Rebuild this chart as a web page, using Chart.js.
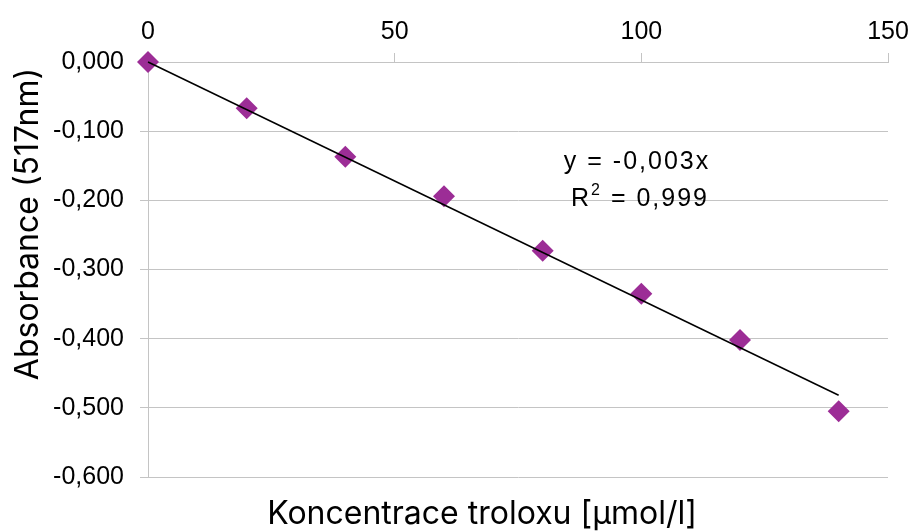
<!DOCTYPE html>
<html>
<head>
<meta charset="utf-8">
<script src="https://cdn.jsdelivr.net/npm/chart.js@4"></script>
<style>
  body { margin: 0; background: #fff; }
</style>
</head>
<body>
<canvas id="chart" width="912" height="532"></canvas>
<script>
// data
const concentrations = [0, 20, 40, 60, 80, 100, 120, 140];
const absorbance = [0, -0.067, -0.137, -0.194, -0.273, -0.335, -0.402, -0.505];
const xTicks = [0, 50, 100, 150];
const yTicks = [0, -0.1, -0.2, -0.3, -0.4, -0.5, -0.6];
const equationText = 'y = -0,003x';
const r2Text = '0,999';

// linear trendline through the origin (least squares)
let sxy = 0, sxx = 0;
concentrations.forEach((x, i) => { sxy += x * absorbance[i]; sxx += x * x; });
const slope = sxy / sxx;
const trendX = [concentrations[0], concentrations[concentrations.length - 1]];

const gridColor = '#c4c4c4';
const tickFont = { family: 'Liberation Sans', size: 25 };

const fmt = v => (Math.abs(v) < 1e-9 ? 0 : v).toFixed(3).replace('.', ',');

// axis titles + trendline equation
const labelsPlugin = {
  id: 'labels',
  afterDraw(chart) {
    const c = chart.ctx;
    c.save();
    c.fillStyle = '#000';
    c.textAlign = 'center';
    c.textBaseline = 'middle';
    c.font = '32px Inter';
    c.fillText('Koncentrace troloxu [µmol/l]', 482, 514);
    c.save();
    c.translate(28, 224);
    c.rotate(-Math.PI / 2);
    c.fillText('Absorbance (517nm)', 0, 0);
    c.restore();

    c.letterSpacing = '2px';
    c.font = '25px Liberation Sans';
    c.fillText(equationText, 637, 162);
    // R² with superscript
    const base = 'R', rest = ' = ' + r2Text;
    const wR = c.measureText(base).width;
    const wRest = c.measureText(rest).width;
    c.font = '16px Liberation Sans';
    const wSup = c.measureText('2').width;
    const total = wR + wSup + wRest;
    let x0 = 640 - total / 2;
    c.textAlign = 'left';
    c.font = '25px Liberation Sans';
    c.fillText(base, x0, 199);
    c.font = '16px Liberation Sans';
    c.fillText('2', x0 + wR, 191);
    c.font = '25px Liberation Sans';
    c.fillText(rest, x0 + wR + wSup, 199);
    c.restore();
  }
};

new Chart(document.getElementById('chart').getContext('2d'), {
  type: 'scatter',
  data: {
    datasets: [
      {
        type: 'line',
        data: trendX.map(x => ({ x: x, y: slope * x })),
        borderColor: '#000',
        borderWidth: 1.5,
        pointRadius: 0,
        fill: false,
        clip: false
      },
      {
        data: concentrations.map((x, i) => ({ x: x, y: absorbance[i] })),
        pointStyle: 'rectRot',
        pointRadius: 11,
        backgroundColor: '#9C2D96',
        borderColor: '#9C2D96',
        borderWidth: 0,
        clip: false
      }
    ]
  },
  options: {
    responsive: false,
    animation: false,
    layout: { padding: { left: 0, top: 0, right: 24, bottom: 55 } },
    plugins: {
      legend: { display: false },
      tooltip: { enabled: false }
    },
    scales: {
      x: {
        type: 'linear',
        position: 'top',
        min: 0,
        max: 150,
        afterFit(scale) {
          scale.height = 62;
          scale.paddingLeft = 0;
          scale.paddingRight = 0;
        },
        afterBuildTicks(scale) { scale.ticks = xTicks.map(v => ({ value: v })); },
        grid: { drawOnChartArea: false, color: gridColor, tickLength: 9 },
        border: { display: true, color: gridColor },
        ticks: { font: tickFont, color: '#000', padding: 6, maxRotation: 0 }
      },
      y: {
        min: -0.6,
        max: 0,
        afterFit(scale) {
          scale.width = 148;
          scale.paddingTop = 0;
          scale.paddingBottom = 0;
        },
        afterBuildTicks(scale) { scale.ticks = yTicks.map(v => ({ value: v })); },
        grid: { color: gridColor, tickLength: 8 },
        border: { display: true, color: gridColor },
        ticks: { font: tickFont, color: '#000', padding: 16, callback: v => fmt(v) }
      }
    }
  },
  plugins: [labelsPlugin]
});
</script>
</body>
</html>
